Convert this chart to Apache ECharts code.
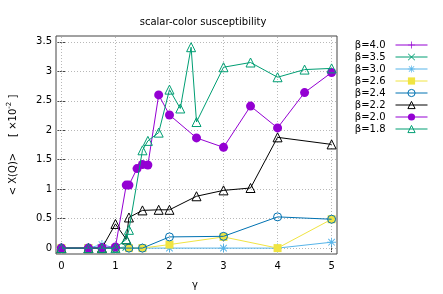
<!DOCTYPE html>
<html>
<head>
<meta charset="utf-8">
<script src="https://cdn.jsdelivr.net/npm/echarts@6/dist/echarts.min.js"></script>
<style>html,body{margin:0;padding:0;background:#fff}#c{width:443px;height:294px}</style>
</head>
<body>
<div id="c"></div>
<script>
// ---- data ----
const titleText = 'scalar-color susceptibility';
const xTicks = [0, 1, 2, 3, 4, 5];
const yTicks = [0, 0.5, 1, 1.5, 2, 2.5, 3, 3.5];

const b40_x = [0.5, 0.75, 1.0];
const b40_y = [0, 0, 0];
const b35_x = [0.5, 0.75, 1.0, 1.2];
const b35_y = [0, 0, 0, 0.02];
const b30_x = [0.5, 0.75, 1.0, 1.25, 1.5, 2.0, 3.0, 4.0, 5.0];
const b30_y = [0, 0.06, 0, 0, 0, 0, 0, 0, 0.10];
const b26_x = [0, 0.5, 0.75, 1.0, 1.25, 1.5, 2.0, 3.0, 4.0, 5.0];
const b26_y = [0, 0, 0, 0, 0, 0, 0.06, 0.19, 0.0, 0.49];
const b24_x = [0, 0.5, 0.75, 1.0, 1.25, 1.5, 2.0, 3.0, 4.0, 5.0];
const b24_y = [0, 0, 0, 0, 0, 0, 0.19, 0.20, 0.53, 0.49];
const b22_x = [0, 0.5, 0.75, 1.0, 1.2, 1.25, 1.5, 1.8, 2.0, 2.5, 3.0, 3.5, 4.0, 5.0];
const b22_y = [0, 0, 0, 0.41, 0.15, 0.52, 0.64, 0.65, 0.65, 0.88, 0.98, 1.02, 1.88, 1.76];
const b20_x = [0, 0.5, 0.75, 1.0, 1.2, 1.25, 1.4, 1.5, 1.6, 1.8, 2.0, 2.5, 3.0, 3.5, 4.0, 4.5, 5.0];
const b20_y = [0, 0, 0.01, 0.02, 1.07, 1.07, 1.35, 1.42, 1.41, 2.60, 2.26, 1.87, 1.71, 2.41, 2.04, 2.64, 2.98];
const b18_x = [0, 0.5, 0.75, 1.0, 1.2, 1.25, 1.5, 1.6, 1.8, 2.0, 2.2, 2.4, 2.5, 3.0, 3.5, 4.0, 4.5, 5.0];
const b18_y = [0, 0, 0, 0, 0.15, 0.31, 1.66, 1.82, 1.96, 2.69, 2.37, 3.41, 2.14, 3.07, 3.15, 2.90, 3.03, 3.05];

const names = ['β=4.0', 'β=3.5', 'β=3.0', 'β=2.6', 'β=2.4', 'β=2.2', 'β=2.0', 'β=1.8'];
// ---- end data ----

const zip = (xs, ys) => xs.map((x, i) => [x, ys[i]]);
const FONT = 'DejaVu Sans';

const plusPath = 'path://M0,4.5L10,4.5L10,5.5L0,5.5Z M4.5,0L5.5,0L5.5,10L4.5,10Z';
const crossPath = 'path://M0,0.7L0.7,0L10,9.3L9.3,10Z M9.3,0L10,0.7L0.7,10L0,9.3Z';
const starPath = 'path://M0,4.5L10,4.5L10,5.5L0,5.5Z M4.5,0L5.5,0L5.5,10L4.5,10Z M1,1.7L1.7,1L9,8.3L8.3,9Z M8.3,1L9,1.7L1.7,9L1,8.3Z';

const styles = [
  {color: '#9400d3', symbol: plusPath, size: 9, hollow: false},
  {color: '#009e73', symbol: crossPath, size: 8, hollow: false},
  {color: '#56b4e9', symbol: starPath, size: 9, hollow: false},
  {color: '#f0e442', symbol: 'rect', size: 8, hollow: false},
  {color: '#0072b2', symbol: 'circle', size: 8, hollow: true},
  {color: '#000000', symbol: 'triangle', size: 9, hollow: true},
  {color: '#9400d3', symbol: 'circle', size: 9, hollow: false},
  {color: '#009e73', symbol: 'triangle', size: 9, hollow: true}
];
const datasets = [zip(b40_x,b40_y), zip(b35_x,b35_y), zip(b30_x,b30_y), zip(b26_x,b26_y),
                  zip(b24_x,b24_y), zip(b22_x,b22_y), zip(b20_x,b20_y), zip(b18_x,b18_y)];

const series = names.map((n, i) => {
  const s = styles[i];
  return {
    name: n, type: 'line', data: datasets[i],
    xAxisIndex: 0, yAxisIndex: 0,
    symbol: s.symbol, symbolSize: s.size,
    showAllSymbol: true,
    lineStyle: {color: s.color, width: 1},
    itemStyle: s.hollow ? {color: 'rgba(255,255,255,0)', borderColor: s.color, borderWidth: 1}
                        : {color: s.color, borderWidth: 0},
    emphasis: {disabled: true},
    animation: false,
    z: 3 + i
  };
});

// dotted grid lines at the tick positions
series.unshift({
  name: 'grid', type: 'line', data: [], xAxisIndex: 0, yAxisIndex: 0, z: 1, silent: true,
  markLine: {
    silent: true, symbol: 'none', animation: false, label: {show: false},
    lineStyle: {color: '#b8b8b8', type: [1, 2], width: 1},
    emphasis: {disabled: true},
    data: xTicks.map(v => ({xAxis: v})).concat(yTicks.map(v => ({yAxis: v})))
  }
});

const chart = echarts.init(document.getElementById('c'), null, {renderer: 'canvas'});
chart.setOption({
  animation: false,
  backgroundColor: '#fff',
  title: {text: titleText, left: 198, top: 12, textAlign: 'center',
          textStyle: {fontFamily: FONT, fontSize: 10, fontWeight: 'normal', color: '#000'}},
  grid: {left: 56, right: 106, top: 36, bottom: 40, show: true, borderColor: '#444', borderWidth: 1},
  legend: {
    orient: 'vertical', right: 10, top: 35, align: 'right',
    itemWidth: 32, itemHeight: 9, itemGap: 2,
    lineStyle: {width: 1},
    itemStyle: {borderWidth: 1},
    textStyle: {fontFamily: FONT, fontSize: 10, color: '#000', padding: [0, 5, 0, 0]},
    data: names, selectedMode: false
  },
  xAxis: [
    {type: 'value', min: -0.1, max: 5.1, position: 'bottom',
     axisLine: {show: false},
     axisTick: {show: true, inside: true, length: 4, customValues: xTicks, lineStyle: {color: '#444'}},
     axisLabel: {customValues: xTicks, margin: 7, fontFamily: FONT, fontSize: 10, color: '#000'},
     splitLine: {show: false}},
    {type: 'value', min: -0.1, max: 5.1, position: 'top',
     axisLine: {show: false},
     axisTick: {show: true, inside: true, length: 4, customValues: xTicks, lineStyle: {color: '#444'}},
     axisLabel: {show: false}, splitLine: {show: false}}
  ],
  yAxis: [
    {type: 'value', min: -0.1, max: 3.6, position: 'left',
     axisLine: {show: false},
     axisTick: {show: true, inside: true, length: 4, customValues: yTicks, lineStyle: {color: '#444'}},
     axisLabel: {customValues: yTicks, margin: 4, fontFamily: FONT, fontSize: 10, color: '#000'},
     splitLine: {show: false}},
    {type: 'value', min: -0.1, max: 3.6, position: 'right',
     axisLine: {show: false},
     axisTick: {show: true, inside: true, length: 4, customValues: yTicks, lineStyle: {color: '#444'}},
     axisLabel: {show: false}, splitLine: {show: false}}
  ],
  graphic: [
    {type: 'text', x: 195, y: 285, style: {text: 'γ', fontFamily: FONT, fontSize: 10, fill: '#000', align: 'center', verticalAlign: 'middle'}},
    {type: 'text', x: 13, y: 145, rotation: Math.PI / 2,
     style: {text: '{a|< X(Q)>     [ ×10}{s|-2}{a| ]}', align: 'center', verticalAlign: 'middle',
             rich: {a: {fontFamily: FONT, fontSize: 10, fill: '#000'},
                    s: {fontFamily: FONT, fontSize: 7, fill: '#000', verticalAlign: 'bottom', padding: [0, 0, 7, 0]}}}}
  ],
  series: series
});
</script>
</body>
</html>
